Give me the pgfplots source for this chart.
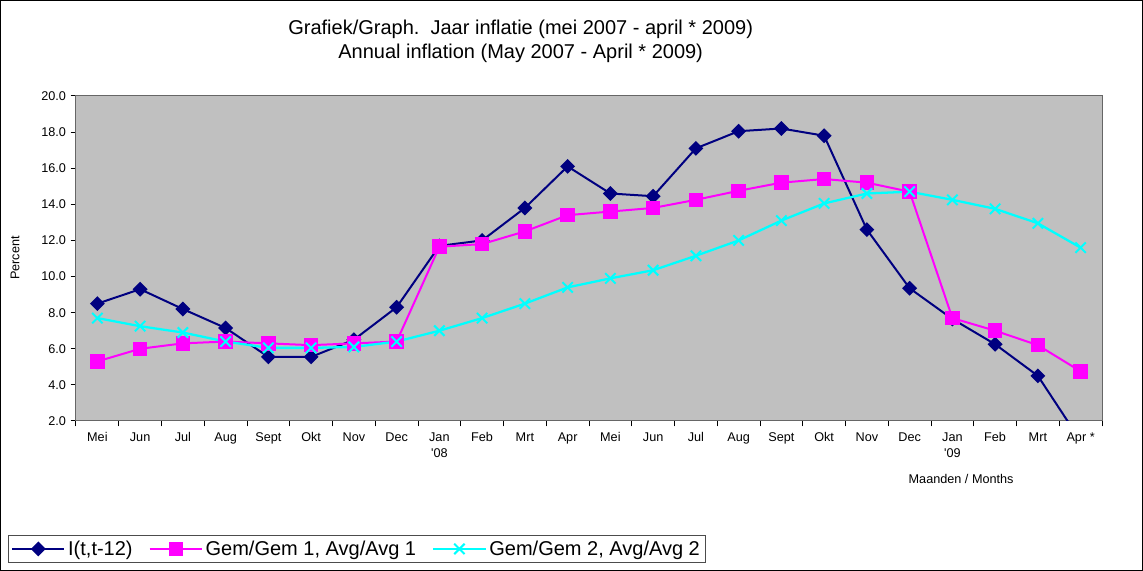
\documentclass[border=0pt]{standalone}
\usepackage{pgfplots}
\pgfplotsset{compat=1.18}
\usepackage{fontspec}
\setmainfont{Liberation Sans}[Ligatures=TeXOff]
\definecolor{bg}{RGB}{192,192,192}
\definecolor{cnavy}{RGB}{0,0,128}
\definecolor{cmag}{RGB}{255,0,255}
\definecolor{ccyan}{RGB}{0,255,255}
\pgfplotstableread{
x  a     b     c
0  8.5   5.3   7.7
1  9.3   6.0   7.25
2  8.2   6.3   6.9
3  7.15  6.4   6.4
4  5.55  6.3   6.05
5  5.55  6.2   6.05
6  6.5   6.3   6.1
7  8.3   6.4   6.4
8  11.7  11.65 7.0
9  12.0  11.8  7.7
10 13.8  12.5  8.5
11 16.1  13.4  9.4
12 14.6  13.6  9.9
13 14.45 13.8  10.35
14 17.1  14.25 11.15
15 18.05 14.75 12.0
16 18.2  15.2  13.1
17 17.8  15.4  14.05
18 12.6  15.2  14.6
19 9.35  14.7  14.7
20 7.65  7.7   14.25
21 6.25  7.0   13.75
22 4.5   6.2   12.95
23 0.9   4.75  11.6
}\data
\begin{document}
\begin{tikzpicture}
\draw[black, line width=0.75pt] (0.375pt,0.375pt) rectangle (856.875pt,427.875pt);
\begin{axis}[
  at={(57pt,112.5pt)}, anchor=south west,
  width=769.5pt, height=243.75pt, scale only axis,
  xmin=-0.5, xmax=23.5, ymin=2, ymax=20,
  axis background/.style={fill=bg},
  axis line style={draw=black!60, line width=0.75pt},
  xtick={-0.5,0.5,...,23.5}, xticklabels={},
  extra x ticks={0,...,23},
  extra x tick labels={Mei,Jun,Jul,Aug,Sept,Okt,Nov,Dec,{Jan\\'08},Feb,Mrt,Apr,Mei,Jun,Jul,Aug,Sept,Okt,Nov,Dec,{Jan\\'09},Feb,Mrt,Apr *},
  extra x tick style={major tick length=0pt, tick label style={align=center, anchor=north, yshift=-5pt}},
  ytick={2,4,...,20},
  yticklabel style={/pgf/number format/.cd, fixed, fixed zerofill, precision=1, assume math mode=true},
  tick label style={font=\fontsize{9.5}{12}\selectfont, text=black},
  tick align=outside, xtick pos=bottom, ytick pos=left,
  major tick length=4pt,
  tick style={black, line width=0.75pt},
  ylabel={Percent},
  ylabel style={at={(axis description cs:-0.0595,0.5015)}, anchor=center, font=\fontsize{9.5}{12}\selectfont},
  xlabel={Maanden / Months},
  xlabel style={at={(axis description cs:0.8627,-0.1785)}, anchor=center, font=\fontsize{9.5}{12}\selectfont},
  legend columns=3,
  legend style={at={(axis description cs:-0.0663,-0.437)}, anchor=south west,
    draw=black!70, line width=0.75pt, font=\fontsize{15}{17}\selectfont, inner sep=2pt,
    /tikz/every even column/.append style={column sep=10pt}},
  legend image code/.code={\draw[mark repeat=2,mark phase=2] plot coordinates {(0cm,0cm)(0.69cm,0cm)(1.38cm,0cm)};},
]
\addplot[cnavy, line width=1.5pt, mark=square*, mark size=3.2pt, mark options={rotate=45, solid}] table[x=x,y=a]{\data};
\addlegendentry{I(t,t-12)}
\addplot[cmag, line width=1.5pt, mark=square*, mark size=4.7pt, mark options={solid}] table[x=x,y=b]{\data};
\addlegendentry{Gem/Gem 1, Avg/Avg 1}
\addplot[ccyan, line width=1.7pt, mark=x, mark size=5.5pt, mark options={solid, line width=1.5pt}] table[x=x,y=c]{\data};
\addlegendentry{Gem/Gem 2, Avg/Avg 2}
\end{axis}
\node[align=center, font=\fontsize{15}{18}\selectfont] at (390.5pt,397pt) {Grafiek/Graph.\ \ Jaar inflatie (mei 2007 - april * 2009)\\Annual inflation (May 2007 - April * 2009)};
\end{tikzpicture}
\end{document}
